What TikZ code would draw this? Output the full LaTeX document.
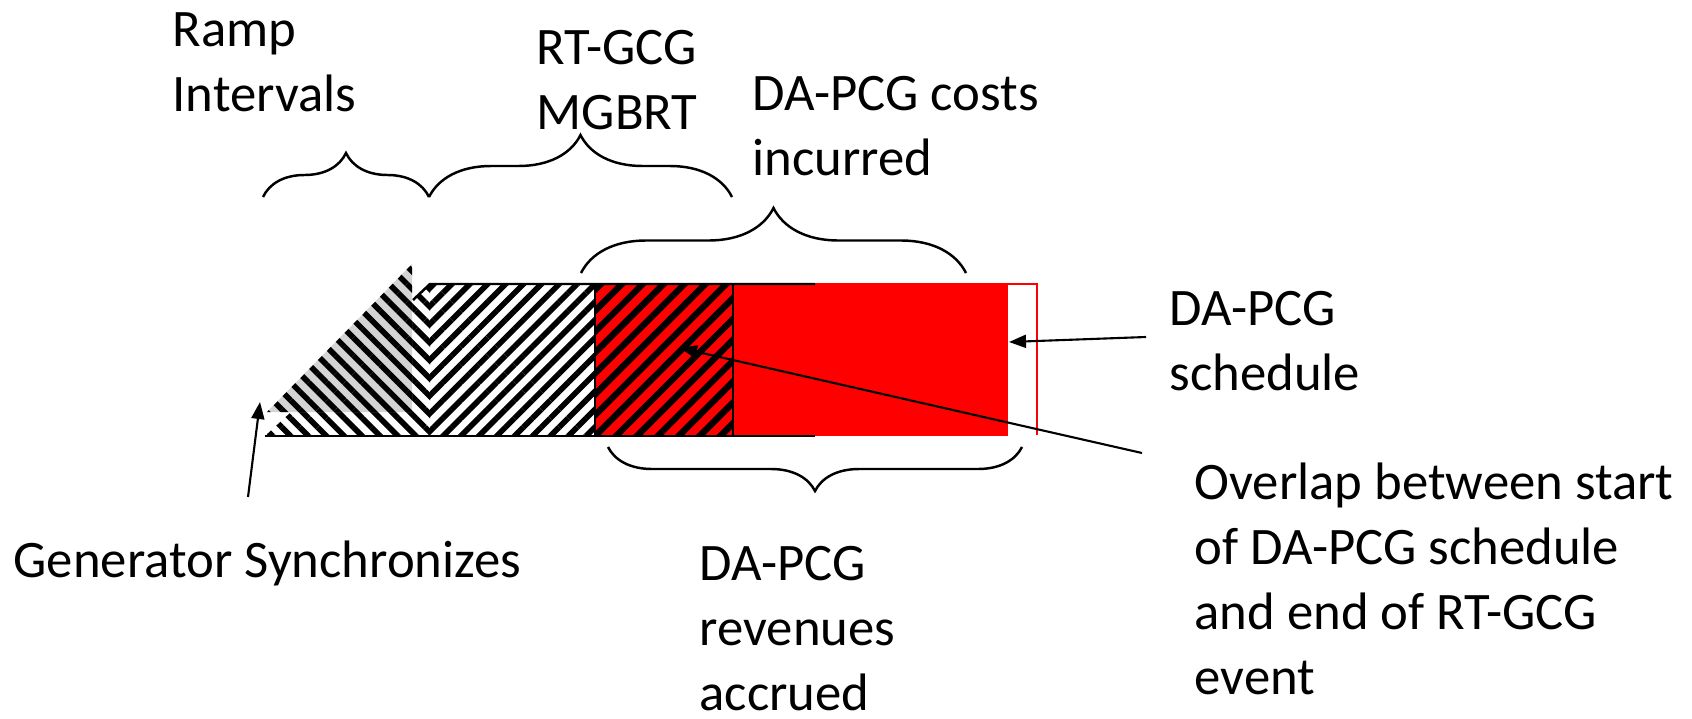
\documentclass[tikz,border=0pt]{standalone}
\usepackage{fontspec}
\setmainfont{Carlito}
\usetikzlibrary{patterns.meta,decorations.pathreplacing,arrows.meta}
\tikzset{
  lbl/.style={anchor=north west,inner sep=0pt,align=left,font={\fontsize{15}{18.5}\selectfont}},
  arr/.style={-{Triangle[length=1.7mm,width=1.3mm]},line width=0.6pt},
  brc/.style={decorate,decoration={brace,amplitude=#1},line width=0.7pt},
  hatchw/.style={pattern={Lines[angle=#1,distance=3.6pt,line width=1.6pt]},pattern color=black},
  hatchr/.style={pattern={Lines[angle=45,distance=4.2pt,line width=1.8pt]},pattern color=black}
}
\begin{document}
\begin{tikzpicture}
	\useasboundingbox (0,0) rectangle (16.92,7.18);
	\path[hatchw=-45] (2.65,2.82)--(4.30,4.34)--(4.30,2.82)--cycle;
	\path[hatchw=45] (4.30,2.82) rectangle (5.95,4.34);
	\path[fill=black!17,postaction={hatchw=-45}] (2.67,3.06)--(4.12,4.54)--(4.12,3.06)--cycle;
	\draw[red,line width=0.5pt] (5.95,4.34)--(10.37,4.34)--(10.37,2.83);
	\fill[red] (5.95,2.82) rectangle (10.08,4.34);
	\path[hatchr] (5.95,2.82) rectangle (7.33,4.34);
	\draw[line width=0.5pt] (5.95,2.82) rectangle (7.33,4.34);
	\draw[line width=0.7pt] (4.13,4.18)--(4.30,4.34)--(8.15,4.34);
	\draw[line width=0.7pt] (2.65,2.82)--(8.15,2.82);
	\draw[brc=0.44cm] (2.63,5.21)--(4.29,5.21);
	\draw[brc=0.62cm] (4.29,5.21)--(7.32,5.21);
	\draw[brc=0.65cm] (5.81,4.45)--(9.66,4.45);
	\draw[brc=0.44cm] (10.22,2.71)--(6.08,2.71);
	\node[lbl] (ramp) at (1.72,7.06) {Ramp\\Intervals};
	\node[lbl] (rtgcg) at (5.36,6.88) {RT-GCG\\MGBRT};
	\node[lbl] (costs) at (7.52,6.42) {DA-PCG costs\\incurred};
	\node[lbl] (sched) at (11.69,4.27) {DA-PCG\\schedule};
	\node[lbl] (overlap) at (11.94,2.56) {Overlap between start\\of DA-PCG schedule\\and end of RT-GCG\\event};
	\node[lbl] (gensync) at (0.13,1.78) {Generator Synchronizes};
	\node[lbl] (revenues) at (6.99,1.72) {DA-PCG\\revenues\\accrued};
	\coordinate (synctail) at (2.48,2.21);
	\coordinate (synctip) at (2.60,3.16);
	\coordinate (schedtail) at (11.46,3.81);
	\coordinate (schedtip) at (10.09,3.76);
	\coordinate (overtail) at (11.42,2.65);
	\coordinate (overtip) at (6.80,3.70);
	\draw[arr] (synctail)--(synctip);
	\draw[arr] (schedtail)--(schedtip);
	\draw[arr] (overtail)--(overtip);
\end{tikzpicture}
\end{document}
